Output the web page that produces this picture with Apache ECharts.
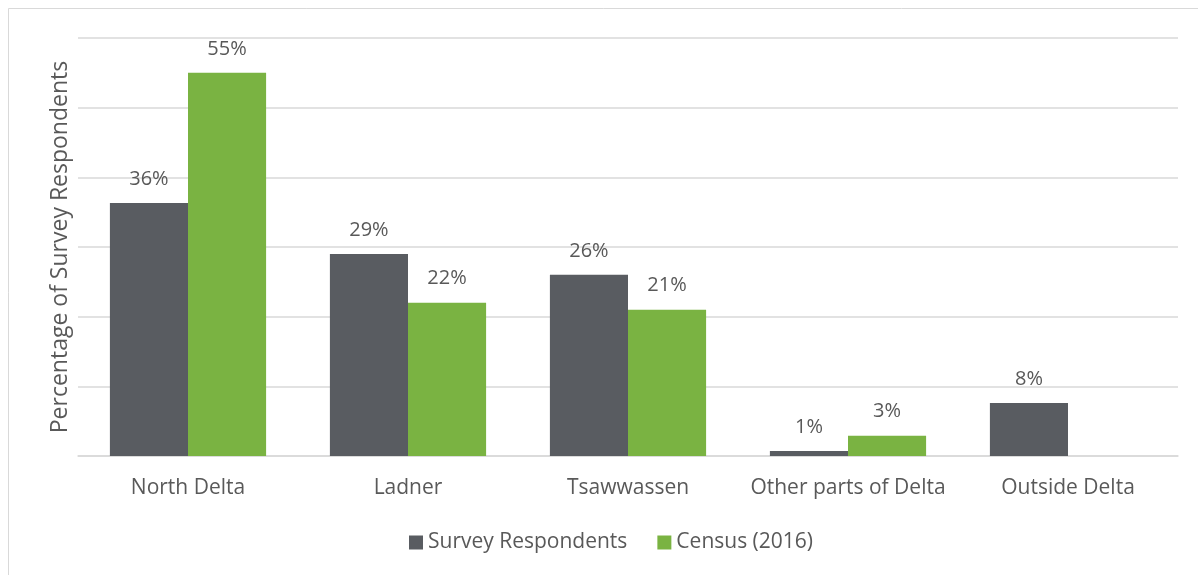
<!DOCTYPE html>
<html><head><meta charset="utf-8">
<script src="https://cdn.jsdelivr.net/npm/echarts@6/dist/echarts.min.js"></script>
<style>html,body{margin:0;padding:0;background:#fff}#c{width:1198px;height:575px}</style>
</head><body><div id="c"></div>
<script>
const categories = ['North Delta', 'Ladner', 'Tsawwassen', 'Other parts of Delta', 'Outside Delta'];
const surveyValues = [36.3, 29, 26, 0.7, 7.6];
const censusValues = [55, 22, 21, 2.9, null];
const seriesNames = ['Survey Respondents', 'Census (2016)'];
const yTitle = 'Percentage of Survey Respondents';

const FONT = '"Open Sans", sans-serif';
const TXT = '#595959';
const chart = echarts.init(document.getElementById('c'), null, {renderer: 'canvas'});
const labelCfg = {
  show: true, position: 'top', distance: 14, color: TXT, fontFamily: FONT, fontSize: 20,
  formatter: p => Math.round(p.value) + '%'
};
chart.setOption({
  animation: false,
  backgroundColor: '#fff',
  graphic: [{type: 'rect', shape: {x: 8.5, y: 8.5, width: 1200, height: 600},
    style: {fill: 'none', stroke: '#d9d9d9', lineWidth: 1}, silent: true}],
  grid: {left: 78, right: 20, top: 38, bottom: 119, containLabel: false},
  legend: {
    data: seriesNames, bottom: 17, left: 404, itemWidth: 14, itemHeight: 14, itemGap: 30,
    icon: 'rect', textStyle: {color: TXT, fontFamily: FONT, fontSize: 21}
  },
  xAxis: {
    type: 'category', data: categories,
    axisLine: {lineStyle: {color: '#d9d9d9', width: 1.5}},
    axisTick: {show: false},
    axisLabel: {color: TXT, fontFamily: FONT, fontSize: 21, margin: 22, interval: 0}
  },
  yAxis: {
    type: 'value', min: 0, max: 60, interval: 10,
    name: yTitle, nameLocation: 'middle', nameGap: 6, nameRotate: 90,
    nameTextStyle: {color: TXT, fontFamily: FONT, fontSize: 23},
    axisLabel: {show: false}, axisLine: {show: false}, axisTick: {show: false},
    splitLine: {lineStyle: {color: '#d9d9d9', width: 1.5}}
  },
  series: [
    {name: seriesNames[0], type: 'bar', data: surveyValues, barGap: '0%', barCategoryGap: '29%',
      itemStyle: {color: '#595c61'}, label: labelCfg},
    {name: seriesNames[1], type: 'bar', data: censusValues,
      itemStyle: {color: '#7ab342'}, label: labelCfg}
  ]
});
</script></body></html>
